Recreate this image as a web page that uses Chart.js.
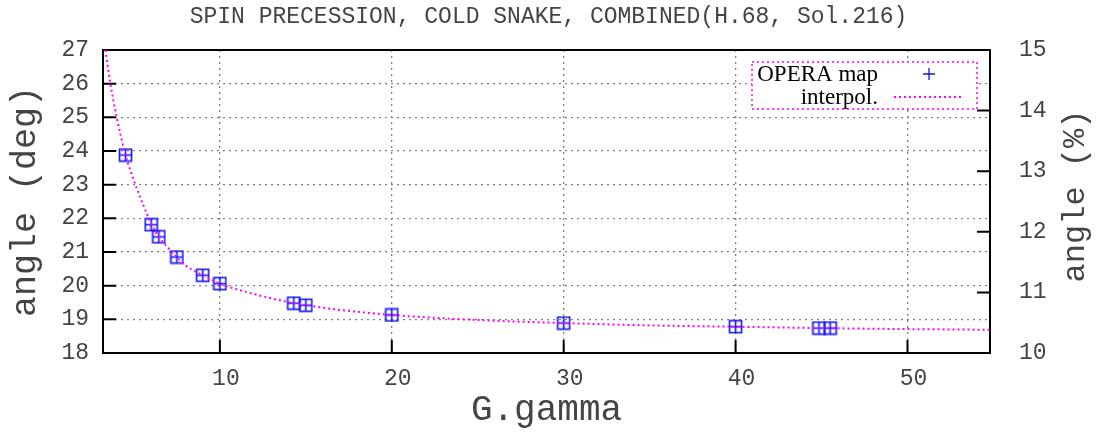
<!DOCTYPE html>
<html><head><meta charset="utf-8">
<script src="https://cdn.jsdelivr.net/npm/chart.js@4.4.0/dist/chart.umd.min.js"></script>
<style>html,body{margin:0;padding:0;background:#fff}canvas{display:block}</style>
</head><body>
<canvas id="c" width="1097" height="434"></canvas>
<script>
const titleText = 'SPIN PRECESSION, COLD SNAKE, COMBINED(H.68, Sol.216)';
const xTitle = 'G.gamma';
const yTitle = 'angle (deg)';
const y2Title = 'angle (%)';
const legendLabels = ['OPERA map', 'interpol.'];

// OPERA map points (G.gamma, angle in deg)
const mapX = [4.51, 6.0, 6.45, 7.5, 9.0, 10.0, 14.3, 15.0, 20.0, 30.0, 40.0, 44.85, 45.5];
const mapY = [23.88, 21.81, 21.45, 20.85, 20.31, 20.06, 19.48, 19.42, 19.13, 18.89, 18.78, 18.74, 18.74];

// interpolation curve
const interpX = [3.3, 3.6, 4.0, 4.51, 5.0, 5.5, 6.0, 6.45, 7.0, 7.5, 8.0, 9.0, 10, 12, 14.3, 15, 17, 20, 25, 30, 35, 40, 45, 50, 55];
const interpY = [27.15, 26.1, 25.0, 23.88, 23.12, 22.45, 21.85, 21.45, 21.12, 20.85, 20.6, 20.31, 20.06, 19.75, 19.48, 19.42, 19.28, 19.13, 18.98, 18.89, 18.82, 18.78, 18.74, 18.71, 18.69];

const xTicks = [10, 20, 30, 40, 50];
const yTicks = [18, 19, 20, 21, 22, 23, 24, 25, 26, 27];
const y2Ticks = [10, 11, 12, 13, 14, 15];

const MONO = "'Liberation Mono', 'Courier New', monospace";
const SERIF = "'Liberation Serif', 'Times New Roman', serif";
const TEXT = '#444';

function makeMarker() {
  const s = 15;
  const cv = document.createElement('canvas');
  cv.width = s; cv.height = s;
  const g = cv.getContext('2d');
  g.strokeStyle = 'rgb(20,20,235)';
  g.lineWidth = 1.6;
  g.strokeRect(1.5, 1.5, s - 3, s - 3);
  g.beginPath();
  g.moveTo(s / 2, 1.5); g.lineTo(s / 2, s - 1.5);
  g.moveTo(1.5, s / 2); g.lineTo(s - 1.5, s / 2);
  g.stroke();
  return cv;
}

const framePlugin = {
  id: 'frame',
  beforeDatasetsDraw(chart) {
    const {ctx, chartArea: a, scales} = chart;
    ctx.save();
    ctx.strokeStyle = '#000';
    ctx.lineWidth = 2;
    ctx.beginPath();
    const L = 13;
    xTicks.forEach(v => { const x = scales.x.getPixelForValue(v); ctx.moveTo(x, a.bottom); ctx.lineTo(x, a.bottom - L); });
    yTicks.forEach(v => { if (v === yTicks[0] || v === yTicks[yTicks.length - 1]) return; const y = scales.y.getPixelForValue(v); ctx.moveTo(a.left, y); ctx.lineTo(a.left + L, y); });
    y2Ticks.forEach(v => { if (v === y2Ticks[0] || v === y2Ticks[y2Ticks.length - 1]) return; const y = scales.y2.getPixelForValue(v); ctx.moveTo(a.right, y); ctx.lineTo(a.right - L, y); });
    ctx.stroke();
    ctx.strokeRect(a.left, a.top, a.right - a.left, a.bottom - a.top);
    ctx.restore();
  },
  afterDraw(chart) {
    const {ctx, chartArea: a} = chart;
    ctx.save();
    // right axis title (reads bottom to top)
    ctx.translate(1076, 196);
    ctx.rotate(-Math.PI / 2);
    ctx.font = "32px " + MONO;
    ctx.fillStyle = TEXT;
    ctx.textAlign = 'center';
    ctx.textBaseline = 'middle';
    ctx.fillText(y2Title, 0, 0);
    ctx.restore();

    // legend
    ctx.save();
    const bx = a.right - 238, by = a.top + 12, bw = 225, bh = 47;
    ctx.fillStyle = '#fff';
    ctx.fillRect(bx, by, bw, bh);
    ctx.strokeStyle = '#ff00ff';
    ctx.lineWidth = 1.5;
    ctx.setLineDash([2, 3]);
    ctx.strokeRect(bx, by, bw, bh);
    ctx.setLineDash([]);
    ctx.fillStyle = '#000';
    ctx.font = "23px " + SERIF;
    ctx.textAlign = 'right';
    ctx.textBaseline = 'middle';
    ctx.fillText(legendLabels[0], bx + 126, by + 13);
    ctx.fillText(legendLabels[1], bx + 126, by + 36);
    // plus symbol
    ctx.strokeStyle = 'rgb(20,20,235)';
    ctx.lineWidth = 1.3;
    ctx.beginPath();
    const px = bx + 177, py = by + 12;
    ctx.moveTo(px - 6, py); ctx.lineTo(px + 6, py);
    ctx.moveTo(px, py - 6); ctx.lineTo(px, py + 6);
    ctx.stroke();
    // dotted line
    ctx.strokeStyle = '#ff00ff';
    ctx.lineWidth = 2;
    ctx.setLineDash([2, 3]);
    ctx.beginPath();
    ctx.moveTo(bx + 142, by + 35); ctx.lineTo(bx + 210, by + 35);
    ctx.stroke();
    ctx.restore();
  }
};

const tickFont = {family: MONO, size: 23};
const gridColor = '#808080';

new Chart(document.getElementById('c'), {
  type: 'scatter',
  data: {
    datasets: [
      {
        label: legendLabels[1],
        type: 'line',
        data: interpX.map((x, i) => ({x, y: interpY[i]})),
        yAxisID: 'y',
        borderColor: '#ff00ff',
        borderWidth: 2,
        borderDash: [2, 3],
        pointRadius: 0,
        fill: false,
        cubicInterpolationMode: 'monotone',
        clip: 0
      },
      {
        label: legendLabels[0],
        data: mapX.map((x, i) => ({x, y: mapY[i]})),
        yAxisID: 'y',
        pointStyle: makeMarker(),
        pointRadius: 7,
        showLine: false
      }
    ]
  },
  options: {
    responsive: false,
    animation: false,
    devicePixelRatio: 1,
    layout: {padding: 0},
    plugins: {
      legend: {display: false},
      tooltip: {enabled: false},
      title: {
        display: true,
        text: titleText,
        color: TEXT,
        font: {family: MONO, size: 23, weight: 'normal'},
        padding: {top: 3, bottom: 19.4}
      }
    },
    scales: {
      x: {
        type: 'linear',
        min: 3.2, max: 54.8,
        afterBuildTicks: s => { s.ticks = xTicks.map(v => ({value: v})); },
        afterFit: s => { s.height = 81; },
        grid: {color: gridColor, lineWidth: 1.3, drawTicks: false},
        border: {display: false, dash: [2, 4]},
        ticks: {font: tickFont, color: TEXT, padding: 12, labelOffset: 6, maxRotation: 0, autoSkip: false},
        title: {display: true, text: xTitle, color: TEXT, font: {family: MONO, size: 36}, padding: {top: 0, bottom: 2}}
      },
      y: {
        type: 'linear', position: 'left',
        min: 18, max: 27,
        afterBuildTicks: s => { s.ticks = yTicks.map(v => ({value: v})); },
        afterFit: s => { s.width = 103; },
        grid: {
          color: c => (c.tick && (c.tick.value === 18 || c.tick.value === 27)) ? 'rgba(0,0,0,0)' : gridColor,
          lineWidth: 1.3, drawTicks: false
        },
        border: {display: false, dash: [2, 4]},
        ticks: {font: tickFont, color: TEXT, padding: 14, autoSkip: false},
        title: {display: true, text: yTitle, color: TEXT, font: {family: MONO, size: 35}, padding: {top: 5, bottom: 0}}
      },
      y2: {
        type: 'linear', position: 'right',
        min: 10, max: 15,
        afterBuildTicks: s => { s.ticks = y2Ticks.map(v => ({value: v})); },
        afterFit: s => { s.width = 107; },
        grid: {drawOnChartArea: false, drawTicks: false},
        border: {display: false},
        ticks: {font: tickFont, color: TEXT, padding: 29, autoSkip: false}
      }
    }
  },
  plugins: [framePlugin]
});
</script>
</body></html>
